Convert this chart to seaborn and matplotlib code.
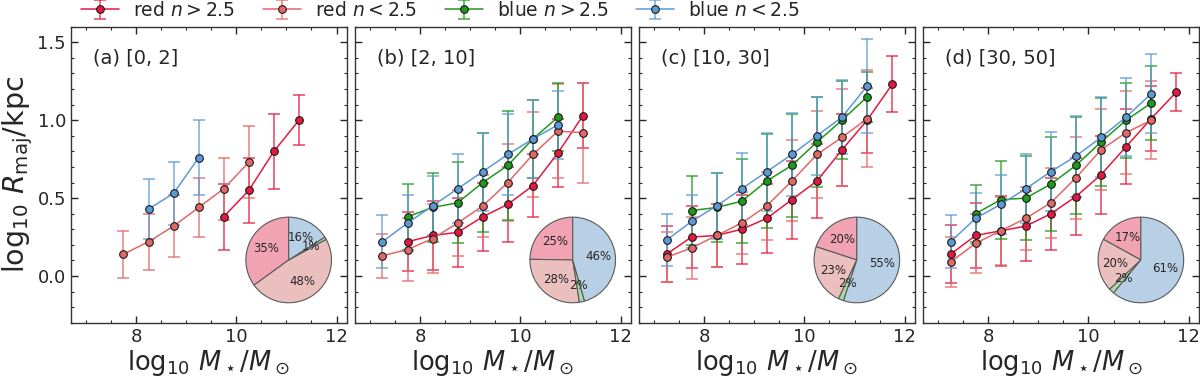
import numpy as np
import matplotlib
matplotlib.use('Agg')
import matplotlib.pyplot as plt
from matplotlib.lines import Line2D
from matplotlib.ticker import MultipleLocator
import seaborn as sns

nan = np.nan

# centres des bins en masse stellaire
mass_bins = [7.25, 7.75, 8.25, 8.75, 9.25, 9.75, 10.25, 10.75, 11.25, 11.75]

panel_labels = ['(a) [0, 2]', '(b) [2, 10]', '(c) [10, 30]', '(d) [30, 50]']
series_names = [r'red $n>2.5$', r'red $n<2.5$', r'blue $n>2.5$', r'blue $n<2.5$']
series_colors = ['#e3193f', '#e26767', '#1c9a1c', '#5b9bd5']
pie_colors = ['#f1a3b3', '#ecbfbf', '#a6daa6', '#b8d0e6']

# log10 R_maj, une ligne par panneau (a, b, c, d)
red_hi_y = [
    [nan, nan, nan, nan, nan, 0.38, 0.55, 0.80, 1.00, nan],
    [nan, 0.22, 0.26, 0.28, 0.38, 0.46, 0.58, 0.79, 1.03, nan],
    [0.14, 0.25, 0.26, 0.30, 0.37, 0.49, 0.61, 0.81, 1.00, 1.23],
    [0.14, 0.26, 0.29, 0.32, 0.40, 0.51, 0.65, 0.83, 1.01, 1.18],
]
red_hi_err = [
    [nan, nan, nan, nan, nan, 0.21, 0.21, 0.24, 0.16, nan],
    [nan, 0.19, 0.22, 0.22, 0.22, 0.24, 0.20, 0.22, 0.21, nan],
    [0.18, 0.20, 0.20, 0.22, 0.22, 0.25, 0.24, 0.23, 0.21, 0.18],
    [0.185, 0.21, 0.225, 0.225, 0.23, 0.25, 0.25, 0.24, 0.21, 0.12],
]
red_lo_y = [
    [nan, 0.14, 0.22, 0.32, 0.44, 0.56, 0.73, nan, nan, nan],
    [0.13, 0.17, 0.24, 0.34, 0.45, 0.60, 0.78, 0.93, 0.92, nan],
    [0.12, 0.18, 0.26, 0.34, 0.45, 0.61, 0.78, 0.89, 1.01, nan],
    [0.09, 0.21, 0.29, 0.37, 0.47, 0.63, 0.81, 0.92, 1.00, nan],
]
red_lo_err = [
    [nan, 0.15, 0.18, 0.20, 0.19, 0.20, 0.23, nan, nan, nan],
    [0.14, 0.20, 0.22, 0.21, 0.20, 0.25, 0.27, 0.30, 0.32, nan],
    [0.16, 0.20, 0.20, 0.20, 0.22, 0.26, 0.28, 0.31, 0.31, nan],
    [0.16, 0.19, 0.22, 0.20, 0.225, 0.265, 0.26, 0.265, 0.25, nan],
]
blue_hi_y = [
    [nan] * 10,
    [nan, 0.38, 0.44, 0.47, 0.60, 0.71, 0.88, 1.02, nan, nan],
    [nan, 0.42, 0.44, 0.48, 0.61, 0.71, 0.86, 1.00, 1.15, nan],
    [nan, 0.40, 0.49, 0.50, 0.59, 0.71, 0.86, 1.00, 1.11, nan],
]
blue_hi_err = [
    [nan] * 10,
    [nan, 0.21, 0.22, 0.26, 0.32, 0.35, 0.25, 0.22, nan, nan],
    [nan, 0.22, 0.22, 0.27, 0.30, 0.33, 0.29, 0.25, 0.16, nan],
    [nan, 0.185, 0.25, 0.27, 0.30, 0.31, 0.28, 0.24, 0.235, nan],
]
blue_lo_y = [
    [nan, nan, 0.43, 0.53, 0.76, nan, nan, nan, nan, nan],
    [0.22, 0.34, 0.45, 0.56, 0.67, 0.78, 0.88, 0.97, nan, nan],
    [0.23, 0.35, 0.45, 0.56, 0.67, 0.78, 0.90, 1.02, 1.22, nan],
    [0.22, 0.37, 0.46, 0.56, 0.67, 0.77, 0.89, 1.02, 1.17, nan],
]
blue_lo_err = [
    [nan, nan, 0.19, 0.20, 0.24, nan, nan, nan, nan, nan],
    [0.17, 0.18, 0.19, 0.22, 0.25, 0.26, 0.25, 0.22, nan, nan],
    [0.165, 0.17, 0.21, 0.23, 0.25, 0.265, 0.25, 0.24, 0.30, nan],
    [0.17, 0.165, 0.19, 0.22, 0.256, 0.26, 0.256, 0.25, 0.255, nan],
]

# fractions pour les camemberts (red>2.5, red<2.5, blue>2.5, blue<2.5)
pie_fracs = [
    [35, 48, 1, 16],
    [25, 28, 2, 46],
    [20, 23, 2, 55],
    [17, 20, 2, 61],
]

all_y = [red_hi_y, red_lo_y, blue_hi_y, blue_lo_y]
all_err = [red_hi_err, red_lo_err, blue_hi_err, blue_lo_err]

sns.set_theme(style='ticks')
plt.rcParams['font.family'] = ['DejaVu Sans']
plt.rcParams['mathtext.fontset'] = 'dejavusans'

fig, axes = plt.subplots(1, 4, figsize=(12, 3.77), dpi=100, sharey=True)
fig.subplots_adjust(left=0.059, right=0.999, top=0.929, bottom=0.144, wspace=0.03)

err_handles = [None] * 4
x = np.array(mass_bins)

for p, ax in enumerate(axes):
    for s in range(4):
        y = np.array(all_y[s][p], dtype=float)
        e = np.array(all_err[s][p], dtype=float)
        ok = ~np.isnan(y)
        if not ok.any():
            continue
        cont = ax.errorbar(x[ok], y[ok], yerr=e[ok], fmt='none', ecolor=series_colors[s],
                           elinewidth=1.3, capsize=4, capthick=1.3, alpha=0.7, zorder=2 + s)
        err_handles[s] = cont
        sns.lineplot(x=x[ok], y=y[ok], ax=ax, color=series_colors[s], marker='o',
                     markersize=5.5, markeredgecolor='k', markeredgewidth=0.8,
                     linewidth=1.1, errorbar=None, sort=False, legend=False, zorder=6 + s)

    ax.set_xlim(6.7, 12.2)
    ax.set_ylim(-0.3, 1.6)
    ax.xaxis.set_major_locator(MultipleLocator(2))
    ax.xaxis.set_minor_locator(MultipleLocator(0.5))
    ax.yaxis.set_major_locator(MultipleLocator(0.5))
    ax.yaxis.set_minor_locator(MultipleLocator(0.1))
    ax.tick_params(which='both', direction='in', top=True, right=True, labelsize=13,
                   colors='0.15')
    ax.tick_params(which='major', length=5, width=1)
    ax.tick_params(which='minor', length=2.5, width=0.8)
    for sp in ax.spines.values():
        sp.set_color('0.2')
        sp.set_linewidth(1)
    ax.set_xlabel(r'$\log_{10}\,M_\star/M_\odot$', fontsize=18.5, labelpad=2)
    ax.set_ylabel('')
    ax.text(0.08, 0.895, panel_labels[p], transform=ax.transAxes, fontsize=14,
            va='center', ha='left')

    # camembert en insert
    ins = ax.inset_axes([0.63, 0.063, 0.32, 0.298])
    ins.pie(pie_fracs[p], colors=pie_colors, startangle=90, counterclock=True,
            autopct='%.0f%%', pctdistance=0.6, textprops={'fontsize': 8.5},
            wedgeprops={'edgecolor': '0.35', 'linewidth': 0.8})
    ins.set_xlim(-1.03, 1.03)
    ins.set_ylim(-1.03, 1.03)

axes[0].set_ylabel(r'$\log_{10}\,R_{\rm maj}$/kpc', fontsize=20.5, labelpad=2)

handles = []
for s in range(4):
    line = Line2D([], [], color=series_colors[s], marker='o', markersize=5.5,
                  markeredgecolor='k', markeredgewidth=0.8, linewidth=1.1)
    handles.append((err_handles[s], line))

fig.legend(handles, series_names, loc='center', bbox_to_anchor=(0.367, 0.972), ncol=4,
           frameon=False, fontsize=13.5, handlelength=2.0, handletextpad=0.75,
           columnspacing=1.5, borderpad=0.1)

fig.savefig('out.png', dpi=100)
